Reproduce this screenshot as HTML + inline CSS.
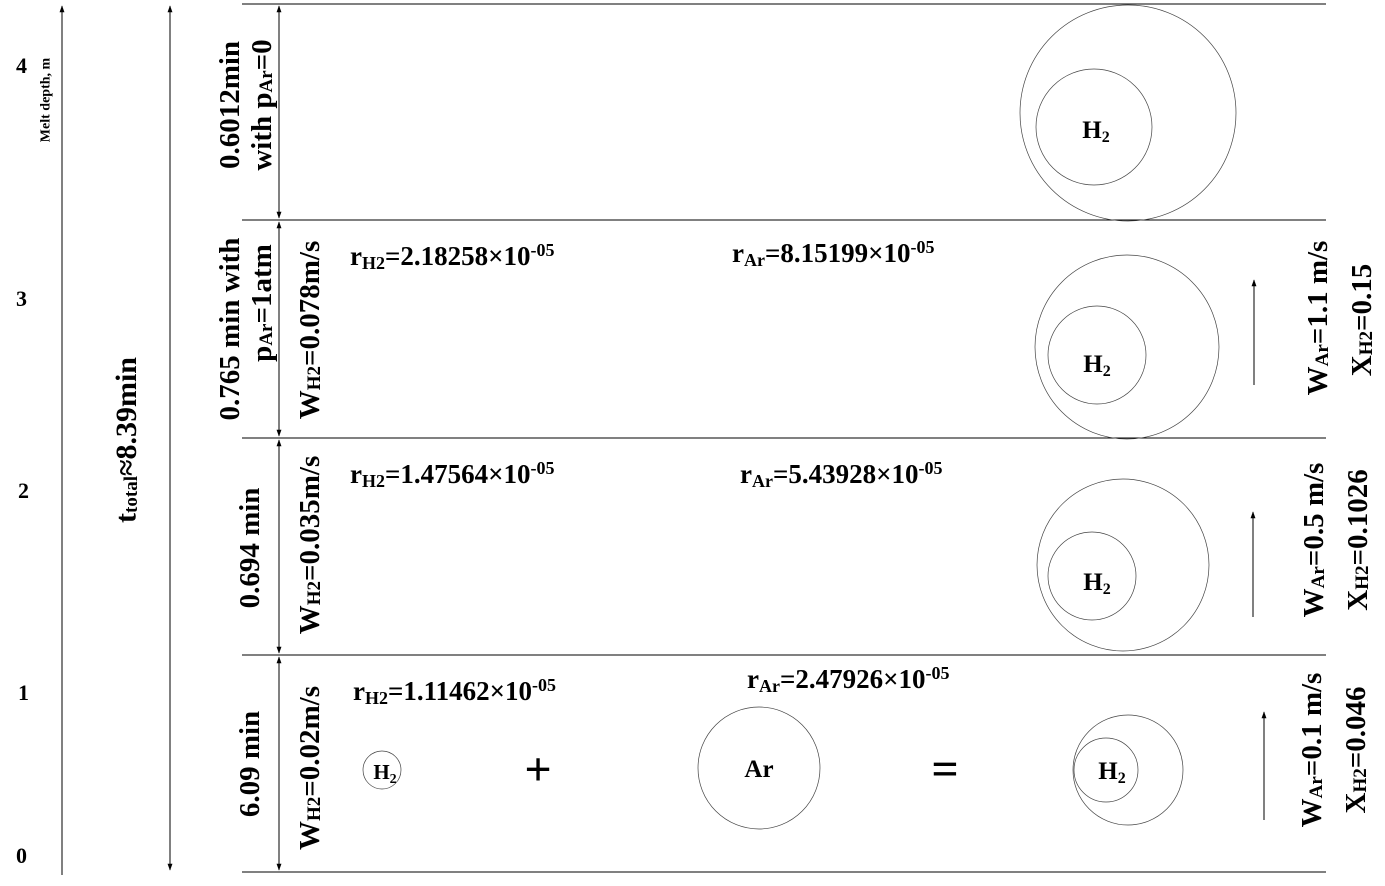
<!DOCTYPE html>
<html><head><meta charset="utf-8"><style>
html,body{margin:0;padding:0;background:#fff}
svg{display:block}
text{font-family:"Liberation Serif",serif;font-weight:bold;fill:#000}
</style></head><body>
<svg width="1385" height="886" viewBox="0 0 1385 886">
<defs>
<marker id="ah" viewBox="0 0 10 10" refX="9" refY="5" markerWidth="7" markerHeight="9" orient="auto-start-reverse"><path d="M0,1.5 L10,5 L0,8.5 z" fill="#000"/></marker>
</defs>
<g stroke="#000" stroke-width="1">
<line x1="62" y1="875" x2="62" y2="6" marker-end="url(#ah)"/>
<line x1="170" y1="870" x2="170" y2="6" marker-start="url(#ah)" marker-end="url(#ah)"/>
</g>
<g font-size="22">
<text x="16" y="73">4</text><text x="16" y="306">3</text><text x="18" y="498">2</text><text x="18" y="700">1</text><text x="16" y="863">0</text>
</g>
<text font-size="14" transform="translate(46,100) rotate(-90)" text-anchor="middle" dominant-baseline="central">Melt depth, m</text>
<text font-size="30" transform="translate(126,440) rotate(-90)" text-anchor="middle" dominant-baseline="central">t<tspan font-size="19" dy="5">total</tspan><tspan dy="-5">≈8.39min</tspan></text>
<g stroke="#000" stroke-width="1">
<line x1="242" y1="4" x2="1326" y2="4"/><line x1="242" y1="220" x2="1326" y2="220"/><line x1="242" y1="438" x2="1326" y2="438"/><line x1="242" y1="655" x2="1326" y2="655"/><line x1="242" y1="872" x2="1326" y2="872"/>
<line x1="279" y1="6" x2="279" y2="218" marker-start="url(#ah)" marker-end="url(#ah)"/>
<line x1="279" y1="222" x2="279" y2="436" marker-start="url(#ah)" marker-end="url(#ah)"/>
<line x1="279" y1="440" x2="279" y2="653" marker-start="url(#ah)" marker-end="url(#ah)"/>
<line x1="279" y1="657" x2="279" y2="870" marker-start="url(#ah)" marker-end="url(#ah)"/>
<line x1="1254" y1="385" x2="1254" y2="280" marker-end="url(#ah)"/>
<line x1="1253" y1="617" x2="1253" y2="512" marker-end="url(#ah)"/>
<line x1="1264" y1="820" x2="1264" y2="712" marker-end="url(#ah)"/>
</g>
<g fill="none" stroke="#444" stroke-width="0.7">
<circle cx="1128" cy="113" r="108"/><circle cx="1094" cy="127" r="58"/>
<circle cx="1127" cy="347" r="92"/><circle cx="1097" cy="355" r="49"/>
<circle cx="1123" cy="565" r="86"/><circle cx="1092" cy="576" r="44"/>
<circle cx="1128" cy="770" r="55"/><circle cx="1106" cy="770" r="32"/>
<circle cx="382" cy="770" r="19"/><circle cx="759" cy="768" r="61"/>
</g>
<g font-size="25" text-anchor="middle">
<text x="1096" y="138">H<tspan font-size="16" dy="4">2</tspan></text>
<text x="1097" y="372">H<tspan font-size="16" dy="4">2</tspan></text>
<text x="1097" y="590">H<tspan font-size="16" dy="4">2</tspan></text>
<text x="1112" y="779">H<tspan font-size="16" dy="4">2</tspan></text>
<text x="385" y="779" font-size="21">H<tspan font-size="14" dy="4">2</tspan></text>
<text x="759" y="777">Ar</text>
<text x="538" y="785" font-size="48">+</text>
<text x="945" y="785" font-size="48">=</text>
</g>
<g font-size="27">
<text x="350" y="265">r<tspan font-size="18" dy="4">H2</tspan><tspan dy="-4">=2.18258×10</tspan><tspan font-size="18" dy="-9">-05</tspan></text>
<text x="732" y="262">r<tspan font-size="18" dy="4">Ar</tspan><tspan dy="-4">=8.15199×10</tspan><tspan font-size="18" dy="-9">-05</tspan></text>
<text x="350" y="483">r<tspan font-size="18" dy="4">H2</tspan><tspan dy="-4">=1.47564×10</tspan><tspan font-size="18" dy="-9">-05</tspan></text>
<text x="740" y="483">r<tspan font-size="18" dy="4">Ar</tspan><tspan dy="-4">=5.43928×10</tspan><tspan font-size="18" dy="-9">-05</tspan></text>
<text x="353" y="700">r<tspan font-size="18" dy="4">H2</tspan><tspan dy="-4">=1.11462×10</tspan><tspan font-size="18" dy="-9">-05</tspan></text>
<text x="747" y="688">r<tspan font-size="18" dy="4">Ar</tspan><tspan dy="-4">=2.47926×10</tspan><tspan font-size="18" dy="-9">-05</tspan></text>
</g>
<g font-size="29" text-anchor="middle" dominant-baseline="central">
<text transform="translate(230,105) rotate(-90)">0.6012min</text>
<text transform="translate(262,105) rotate(-90)">with p<tspan font-size="19" dy="4">Ar</tspan><tspan dy="-4">=0</tspan></text>
<text transform="translate(230,329) rotate(-90)">0.765 min with</text>
<text transform="translate(262,303) rotate(-90)">p<tspan font-size="19" dy="4">Ar</tspan><tspan dy="-4">=1atm</tspan></text>
<text transform="translate(310,330) rotate(-90)">W<tspan font-size="19" dy="4">H2</tspan><tspan dy="-4">=0.078m/s</tspan></text>
<text transform="translate(250,548) rotate(-90)">0.694 min</text>
<text transform="translate(310,545) rotate(-90)">W<tspan font-size="19" dy="4">H2</tspan><tspan dy="-4">=0.035m/s</tspan></text>
<text transform="translate(250,764) rotate(-90)">6.09 min</text>
<text transform="translate(310,768) rotate(-90)">W<tspan font-size="19" dy="4">H2</tspan><tspan dy="-4">=0.02m/s</tspan></text>
<text transform="translate(1318,318) rotate(-90)">W<tspan font-size="19" dy="4">Ar</tspan><tspan dy="-4">=1.1 m/s</tspan></text>
<text transform="translate(1362,320) rotate(-90)">X<tspan font-size="19" dy="4">H2</tspan><tspan dy="-4">=0.15</tspan></text>
<text transform="translate(1314,540) rotate(-90)">W<tspan font-size="19" dy="4">Ar</tspan><tspan dy="-4">=0.5 m/s</tspan></text>
<text transform="translate(1358,540) rotate(-90)">X<tspan font-size="19" dy="4">H2</tspan><tspan dy="-4">=0.1026</tspan></text>
<text transform="translate(1312,750) rotate(-90)">W<tspan font-size="19" dy="4">Ar</tspan><tspan dy="-4">=0.1 m/s</tspan></text>
<text transform="translate(1356,750) rotate(-90)">X<tspan font-size="19" dy="4">H2</tspan><tspan dy="-4">=0.046</tspan></text>
</g>
</svg>
</body></html>
